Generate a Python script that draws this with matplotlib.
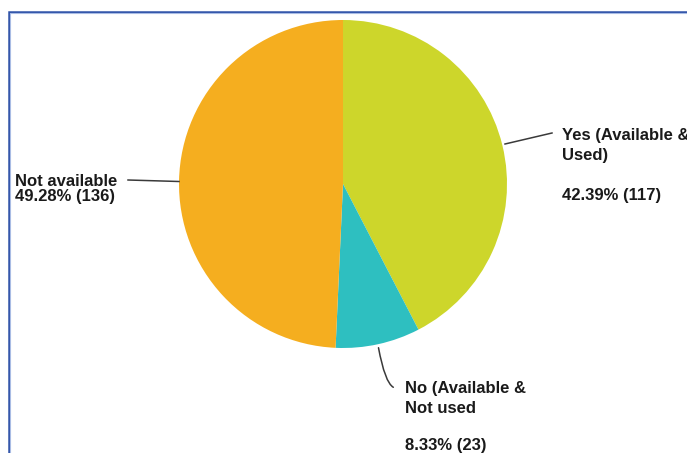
import matplotlib.pyplot as plt
from matplotlib.patches import FancyArrowPatch

# Survey responses
categories = ["Yes (Available &\nUsed)", "No (Available &\nNot used", "Not available"]
counts = [117, 23, 136]
percents = [42.39, 8.33, 49.28]
colors = ["#CDD62B", "#2EBFC0", "#F5AE1F"]

W, H = 687, 453
fig = plt.figure(figsize=(W / 100, H / 100), dpi=100)
ax = fig.add_axes([0, 0, 1, 1])
ax.set_xlim(0, W)
ax.set_ylim(0, H)
ax.set_aspect("equal")
ax.axis("off")

def Y(y):
    return H - y

# frame
ax.plot([8.5, 8.5, W + 5], [-5, Y(11.5), Y(11.5)], color="#2F52A8", lw=1.8,
        solid_capstyle="butt", solid_joinstyle="miter")
ax.plot([10.2, 10.2, W + 5], [-5, Y(13.2), Y(13.2)], color="#A9BCE4", lw=0.8)

cx, cy, r = 343, 184, 164
ax.pie(percents, colors=colors, startangle=90, counterclock=False,
       center=(cx, Y(cy)), radius=r, frame=True,
       wedgeprops=dict(linewidth=0, antialiased=True))
ax.set_xlim(0, W)
ax.set_ylim(0, H)
ax.axis("off")

font = dict(family="Liberation Sans", fontweight="bold", fontsize=12,
            color="#1a1a1a", va="baseline", ha="left")

def label_lines(x, lines):
    for y, txt in lines:
        ax.text(x, Y(y), txt, **font)

yes_l1, yes_l2 = categories[0].split("\n")
label_lines(562, [(140, yes_l1), (160, yes_l2),
                  (200, f"{percents[0]:.2f}% ({counts[0]})")])
no_l1, no_l2 = categories[1].split("\n")
label_lines(405, [(393, no_l1), (413, no_l2),
                  (450, f"{percents[1]:.2f}% ({counts[1]})")])
label_lines(15, [(186, categories[2]),
                 (201, f"{percents[2]:.2f}% ({counts[2]})")])

lc = dict(color="#3a3a3a", lw=1.1)
ax.plot([505, 552], [Y(144), Y(133)], **lc)
ax.plot([128, 179], [Y(180), Y(181.5)], **lc)
ax.add_patch(FancyArrowPatch((378, Y(345)), (396, Y(388)),
                             connectionstyle="angle3,angleA=-80,angleB=0",
                             arrowstyle="-", **lc))

fig.savefig("out.png", dpi=100, facecolor="white")
